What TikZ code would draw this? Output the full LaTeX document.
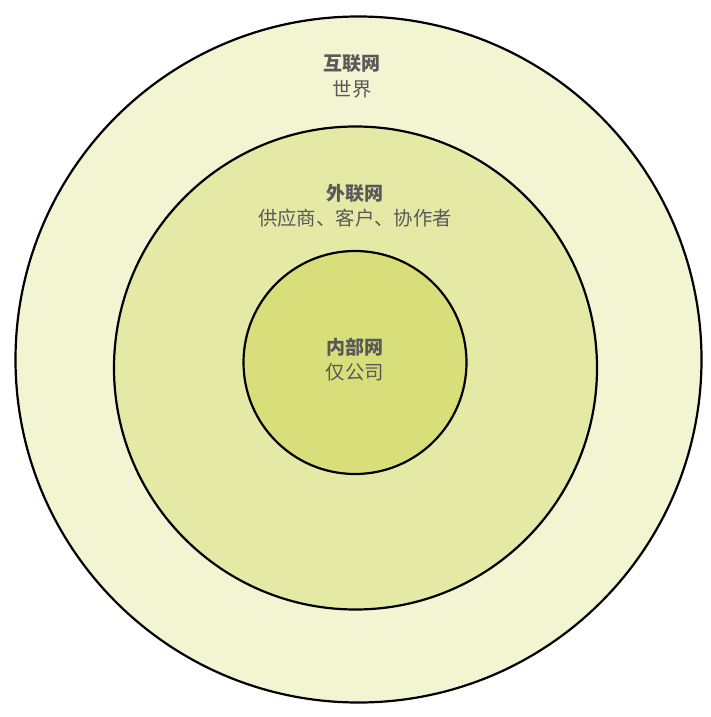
\documentclass[tikz,border=0pt]{standalone}
\usepackage{fontspec}
\newfontfamily\cjk{Noto Sans CJK SC}
\definecolor{ringtext}{HTML}{595959}
\definecolor{worldfill}{HTML}{F2F4D2}
\definecolor{extrafill}{HTML}{E4EAA6}
\definecolor{intrafill}{HTML}{D8DF7A}
\tikzset{
    ring/.style={draw=black,line width=2.2pt},
    title/.style={text=ringtext,font=\cjk\bfseries\fontsize{19}{22}\selectfont,inner sep=0pt},
    subtitle/.style={text=ringtext,font=\cjk\fontsize{19.4}{22}\selectfont,inner sep=0pt}
}
\begin{document}
\begin{tikzpicture}[x=1pt,y=-1pt]
    \useasboundingbox (0,0) rectangle (711,717);

    % Anillo exterior: internet
    \coordinate (W) at (358.5,359.5);
    \draw[ring,fill=worldfill] (W) circle (343);
    \node[title] (worldtitle) at (352,64) {互联网};
    \node[subtitle] (worldsub) at (352,89) {世界};

    % Anillo medio: extranet
    \coordinate (E) at (355.5,368);
    \draw[ring,fill=extrafill] (E) circle (241.5);
    \node[title] (extratitle) at (355,193) {外联网};
    \node[subtitle] (extrasub) at (355,218) {供应商、客户、协作者};

    % Anillo interior: intranet
    \coordinate (I) at (355,362.5);
    \draw[ring,fill=intrafill] (I) circle (111.5);
    \node[title] (intratitle) at (355,347) {内部网};
    \node[subtitle] (intrasub) at (355,372) {仅公司};
\end{tikzpicture}
\end{document}
